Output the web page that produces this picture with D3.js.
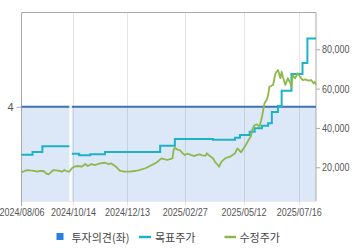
<!DOCTYPE html>
<html><head><meta charset="utf-8">
<script src="https://cdn.jsdelivr.net/npm/d3@7"></script>
<style>html,body{margin:0;padding:0;background:#fff;}svg{display:block;}</style>
</head><body>
<svg id="c" width="360" height="248"></svg>
<script>
// ---- data ----
const startDate = "2024-08-06", endDate = "2025-08-05";
const holidays = ["2024-08-15","2024-09-16","2024-09-17","2024-09-18","2024-10-01","2024-10-03","2024-10-09","2024-12-25","2024-12-31","2025-01-01","2025-01-27","2025-01-28","2025-01-29","2025-01-30","2025-03-03","2025-05-01","2025-05-05","2025-05-06","2025-06-03","2025-06-06"];
const xTicks = ["2024-08-06","2024-10-14","2024-12-13","2025-02-27","2025-05-12","2025-07-16"];
const rightTicks = [20000, 40000, 60000, 80000];
const leftTicks = [4];
const legendLabels = ["투자의견(좌)", "목표주가", "수정주가"];
const opinion = [["2024-08-06",4],["2024-10-08",4],["2024-10-10",null],["2024-10-11",4],["2025-08-05",4]];
const target = [["2024-08-06",26400],["2024-08-20",27800],["2024-08-30",30700],["2024-10-08",30700],["2024-10-10",null],["2024-10-11",26900],["2024-10-21",26100],["2024-11-01",26600],["2024-11-19",27800],["2025-01-24",30900],["2025-02-17",34400],["2025-04-02",34000],["2025-04-28",35000],["2025-05-07",36400],["2025-05-19",38100],["2025-05-23",39800],["2025-06-02",41100],["2025-06-11",42400],["2025-06-16",48100],["2025-06-23",51200],["2025-06-26",58900],["2025-07-08",67400],["2025-07-21",73000],["2025-07-25",85500],["2025-08-05",85500]];
const price = [["2024-08-06",17400],["2024-08-09",18250],["2024-08-13",18600],["2024-08-16",18400],["2024-08-20",18250],["2024-08-26",17750],["2024-08-28",18200],["2024-09-02",18100],["2024-09-04",16900],["2024-09-06",16400],["2024-09-09",16900],["2024-09-12",18600],["2024-09-23",18250],["2024-09-26",17750],["2024-09-30",18600],["2024-10-07",17750],["2024-10-08",17800],["2024-10-11",19500],["2024-10-15",20300],["2024-10-18",20650],["2024-10-23",20300],["2024-10-28",21650],["2024-10-30",20650],["2024-11-04",21650],["2024-11-07",21150],["2024-11-13",22000],["2024-11-19",22300],["2024-11-22",21650],["2024-11-26",22000],["2024-12-02",20300],["2024-12-05",18250],["2024-12-11",17750],["2024-12-17",17750],["2024-12-23",18100],["2024-12-30",18600],["2025-01-08",19500],["2025-01-14",20800],["2025-01-17",21700],["2025-01-22",22830],["2025-01-31",24560],["2025-02-05",24000],["2025-02-07",23700],["2025-02-11",24200],["2025-02-13",24560],["2025-02-14",28780],["2025-02-17",29950],["2025-02-19",29000],["2025-02-21",28780],["2025-02-25",27300],["2025-02-27",26240],["2025-03-04",26900],["2025-03-06",26590],["2025-03-10",26000],["2025-03-12",25730],["2025-03-14",26300],["2025-03-18",26590],["2025-03-20",26100],["2025-03-25",25880],["2025-03-26",27100],["2025-03-28",26000],["2025-04-02",24560],["2025-04-04",22500],["2025-04-08",21150],["2025-04-09",20290],["2025-04-11",22830],["2025-04-16",24560],["2025-04-18",25000],["2025-04-22",25370],["2025-04-24",26200],["2025-04-28",27100],["2025-04-30",29640],["2025-05-08",27610],["2025-05-12",29640],["2025-05-14",31500],["2025-05-16",33860],["2025-05-20",35800],["2025-05-21",38950],["2025-05-23",41490],["2025-05-27",41800],["2025-05-29",40630],["2025-06-02",45710],["2025-06-05",52520],["2025-06-10",54500],["2025-06-11",56740],["2025-06-12",60960],["2025-06-17",61830],["2025-06-19",67780],["2025-06-23",69460],["2025-06-25",65240],["2025-06-26",68590],["2025-06-27",66000],["2025-07-01",61830],["2025-07-03",65240],["2025-07-07",63000],["2025-07-08",60660],["2025-07-09",66960],["2025-07-11",65240],["2025-07-15",67780],["2025-07-17",66050],["2025-07-21",64370],["2025-07-23",64730],["2025-07-28",64020],["2025-07-30",64370],["2025-08-01",62700],["2025-08-04",63510],["2025-08-05",61830]];

// ---- trading calendar ----
const fmt = d3.utcFormat("%Y-%m-%d");
const hol = new Set(holidays);
const days = d3.utcDay.range(new Date(startDate+"T00:00:00Z"), d3.utcDay.offset(new Date(endDate+"T00:00:00Z"),1))
  .filter(d => d.getUTCDay() !== 0 && d.getUTCDay() !== 6)
  .map(fmt).filter(s => !hol.has(s));

// ---- layout ----
const L = 21.5, R = 316, T = 12.5, B = 201;
const svg = d3.select("#c");
const x = d3.scalePoint().domain(days).range([L, R]);
const yR = d3.scaleLinear().domain([2850, 98700]).range([B, T]);
const yL = d3.scaleLinear().domain([0, 8]).range([B, T]);

const COL_OP = "#3f72b3", COL_FILL = "#dce7f7", COL_T = "#1cb3c8", COL_P = "#8db94c";
const axisFont = "'Liberation Sans',Arial,sans-serif";

// fill area (opinion)
svg.append("path").datum(opinion)
  .attr("d", d3.area().defined(d => d[1] != null).x(d => x(d[0])).y0(B).y1(d => yL(d[1])))
  .attr("fill", COL_FILL);

// vertical grid
svg.append("g").selectAll("line").data(xTicks.slice(1)).join("line")
  .attr("x1", d => Math.round(x(d)) + 0.5).attr("x2", d => Math.round(x(d)) + 0.5)
  .attr("y1", T).attr("y2", B + 5)
  .attr("stroke", "#000").attr("stroke-opacity", 0.1);

// frame
svg.append("path").attr("d", `M${L},${B+5}V${T}H${R}V${B}`).attr("fill","none").attr("stroke","#aaa").attr("stroke-width",1);
svg.append("line").attr("x1",L).attr("x2",R).attr("y1",B+0.5).attr("y2",B+0.5).attr("stroke","#000").attr("stroke-opacity",0.08);

// axes
const gx = svg.append("g").attr("transform", `translate(0,${B})`)
  .call(d3.axisBottom(x).tickValues(xTicks).tickSize(0).tickPadding(7).tickFormat(d => d.replace(/-/g,"/")));
gx.select(".domain").remove();
gx.selectAll("text").attr("fill","#555").style("font-family",axisFont).style("font-size","11px")
  .attr("textLength",45).attr("lengthAdjust","spacingAndGlyphs");

const gr = svg.append("g").attr("transform", `translate(${R},0)`)
  .call(d3.axisRight(yR).tickValues(rightTicks).tickSize(4).tickPadding(2).tickFormat(d3.format(",")));
gr.select(".domain").remove();
gr.selectAll("line").attr("stroke","#aaa");
gr.selectAll("text").attr("fill","#555").style("font-family",axisFont).style("font-size","11px")
  .attr("textLength",27.5).attr("lengthAdjust","spacingAndGlyphs");

const gl = svg.append("g").attr("transform", `translate(${L},0)`)
  .call(d3.axisLeft(yL).tickValues(leftTicks).tickSize(5).tickPadding(3));
gl.select(".domain").remove();
gl.selectAll("line").attr("stroke","#aaa");
gl.selectAll("text").attr("fill","#555").style("font-family",axisFont).style("font-size","11px");

// lines
svg.append("path").datum(opinion)
  .attr("d", d3.line().defined(d => d[1] != null).x(d => x(d[0])).y(d => yL(d[1])))
  .attr("fill","none").attr("stroke",COL_OP).attr("stroke-width",2);

svg.append("path").datum(target)
  .attr("d", d3.line().defined(d => d[1] != null).curve(d3.curveStepAfter).x(d => x(d[0])).y(d => yR(d[1])))
  .attr("fill","none").attr("stroke",COL_T).attr("stroke-width",2);

svg.append("path").datum(price)
  .attr("d", d3.line().x(d => x(d[0])).y(d => yR(d[1])))
  .attr("fill","none").attr("stroke",COL_P).attr("stroke-width",1.8).attr("stroke-linejoin","round");

// legend
const lg = svg.append("g").style("font-family","'Noto Sans CJK KR',sans-serif").style("font-size","11px");
lg.append("rect").attr("x",56.5).attr("y",233).attr("width",7).attr("height",7).attr("fill","#2b7fe0");
lg.append("text").attr("x",71.5).attr("y",237).attr("dominant-baseline","central").attr("fill","#444").text(legendLabels[0]);
lg.append("line").attr("x1",139).attr("x2",151).attr("y1",237).attr("y2",237).attr("stroke",COL_T).attr("stroke-width",2.5);
lg.append("text").attr("x",155).attr("y",237).attr("dominant-baseline","central").attr("fill","#444").text(legendLabels[1]);
lg.append("line").attr("x1",224.5).attr("x2",236).attr("y1",237).attr("y2",237).attr("stroke",COL_P).attr("stroke-width",2.5);
lg.append("text").attr("x",239.5).attr("y",237).attr("dominant-baseline","central").attr("fill","#444").text(legendLabels[2]);
</script>
</body></html>
